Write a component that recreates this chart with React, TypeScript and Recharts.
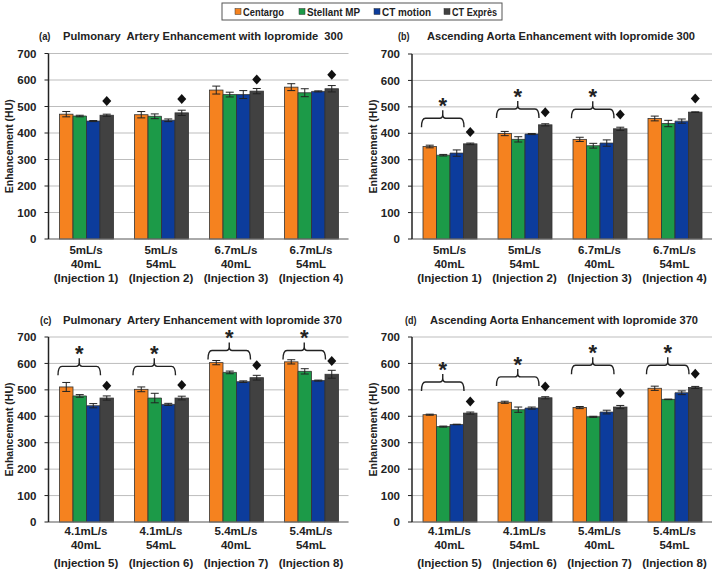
import React from "react"
import { BarChart, Bar, XAxis, YAxis, CartesianGrid, ErrorBar } from "recharts"

// series, in legend order
const seriesKeys = ["centargo", "stellant", "ctMotion", "ctExpres"]
const seriesNames = ["Centargo", "Stellant MP", "CT motion", "CT Exprès"]
const seriesColors = ["#F5821F", "#1C9A48", "#0C3C9C", "#414141"]

// x-axis tick labels
const rates300 = ["5mL/s", "5mL/s", "6.7mL/s", "6.7mL/s"]
const rates370 = ["4.1mL/s", "4.1mL/s", "5.4mL/s", "5.4mL/s"]
const volumes = ["40mL", "54mL", "40mL", "54mL"]
const injections300 = ["(Injection 1)", "(Injection 2)", "(Injection 3)", "(Injection 4)"]
const injections370 = ["(Injection 5)", "(Injection 6)", "(Injection 7)", "(Injection 8)"]

const yTicks = [0, 100, 200, 300, 400, 500, 600, 700]

// (a) pulmonary artery, iopromide 300
const aCentargo = [471, 469, 562, 573]
const aCentargoErr = [10, 12, 15, 13]
const aStellant = [464, 463, 545, 552]
const aStellantErr = [3, 9, 9, 15]
const aMotion = [445, 448, 545, 557]
const aMotionErr = [2, 5, 15, 2]
const aExpres = [467, 476, 558, 567]
const aExpresErr = [4, 10, 10, 12]
const aDiamond = [521, 528, 602, 620]
const aBracket = [null, null, null, null]

// (b) ascending aorta, iopromide 300
const bCentargo = [350, 399, 377, 456]
const bCentargoErr = [5, 8, 8, 9]
const bStellant = [317, 377, 353, 437]
const bStellantErr = [3, 10, 9, 12]
const bMotion = [325, 397, 363, 446]
const bMotionErr = [12, 2, 12, 8]
const bExpres = [360, 432, 417, 480]
const bExpresErr = [3, 4, 6, 1]
const bDiamond = [405, 480, 471, 532]
const bBracket = [457, 492, 491, null]

// (c) pulmonary artery, iopromide 370
const cCentargo = [511, 502, 603, 606]
const cCentargoErr = [17, 9, 8, 8]
const cStellant = [477, 469, 566, 570]
const cStellantErr = [5, 18, 5, 10]
const cMotion = [440, 445, 531, 535]
const cMotionErr = [8, 4, 3, 2]
const cExpres = [469, 469, 546, 559]
const cExpresErr = [8, 7, 9, 15]
const cDiamond = [516, 518, 593, 609]
const cBracket = [589, 589, 649, 649]

// (d) ascending aorta, iopromide 370
const dCentargo = [406, 453, 433, 506]
const dCentargoErr = [2, 4, 4, 8]
const dStellant = [361, 425, 398, 464]
const dStellantErr = [2, 10, 2, 1]
const dMotion = [369, 431, 416, 489]
const dMotionErr = [1, 4, 7, 7]
const dExpres = [412, 470, 435, 509]
const dExpresErr = [4, 4, 6, 4]
const dDiamond = [456, 513, 488, 561]
const dBracket = [530, 549, 593, 593]

const arial = "'Liberation Sans', Arial, sans-serif"

function buildRows(
  rates: string[],
  injections: string[],
  values: number[][],
  errors: number[][],
  diamond: number[],
  bracket: (number | null)[]
) {
  return rates.map((rate, i) => {
    const row: any = { rate, volume: volumes[i], injection: injections[i], diamond: diamond[i], bracket: bracket[i] }
    seriesKeys.forEach((k, s) => {
      row[k] = values[s][i]
      row[k + "Err"] = errors[s][i]
    })
    return row
  })
}

const rowsA = buildRows(rates300, injections300, [aCentargo, aStellant, aMotion, aExpres], [aCentargoErr, aStellantErr, aMotionErr, aExpresErr], aDiamond, aBracket)
const rowsB = buildRows(rates300, injections300, [bCentargo, bStellant, bMotion, bExpres], [bCentargoErr, bStellantErr, bMotionErr, bExpresErr], bDiamond, bBracket)
const rowsC = buildRows(rates370, injections370, [cCentargo, cStellant, cMotion, cExpres], [cCentargoErr, cStellantErr, cMotionErr, cExpresErr], cDiamond, cBracket)
const rowsD = buildRows(rates370, injections370, [dCentargo, dStellant, dMotion, dExpres], [dCentargoErr, dStellantErr, dMotionErr, dExpresErr], dDiamond, dBracket)

// first bar of a group also draws the bracket + asterisk over bars 1-3
function BracketBar(props: any) {
  const { x, y, width, height, fill, value, payload } = props
  const base = y + height
  const k = value ? height / value : 0
  const b = payload?.bracket
  let extra = null
  if (b != null) {
    const top = base - b * k
    const l = x - 1.5
    const r = x + 3 * width + 0.5
    const cx = (l + r) / 2
    extra = (
      <g>
        <path
          d={`M${l},${top + 9} Q${l},${top} ${l + 4},${top} L${cx - 3},${top} Q${cx},${top} ${cx},${top - 4} L${cx},${top - 8} M${cx},${top - 4} Q${cx},${top} ${cx + 3},${top} L${r - 4},${top} Q${r},${top} ${r},${top + 9}`}
          fill="none"
          stroke="#222"
          strokeWidth={1.4}
        />
        <text x={cx} y={top - 5} textAnchor="middle" fontSize={22} fontWeight="bold" fontFamily={arial} fill="#222">
          *
        </text>
      </g>
    )
  }
  return (
    <g>
      <rect x={x} y={y} width={width} height={height} fill={fill} stroke="#333" strokeWidth={0.8} />
      {extra}
    </g>
  )
}

// last bar of a group also draws the diamond
function DiamondBar(props: any) {
  const { x, y, width, height, fill, value, payload } = props
  const base = y + height
  const k = value ? height / value : 0
  const cy = base - payload.diamond * k
  const cx = x + width / 2
  return (
    <g>
      <rect x={x} y={y} width={width} height={height} fill={fill} stroke="#333" strokeWidth={0.8} />
      <path d={`M${cx},${cy - 5} L${cx + 4.5},${cy} L${cx},${cy + 5} L${cx - 4.5},${cy} Z`} fill="#111" />
    </g>
  )
}

function makeTick(rows: any[], offsets: number[]) {
  return (props: any) => {
    const { x, y, payload } = props
    const row = rows.find((r) => r.injection === payload.value)
    if (!row) return null
    const lines = [row.rate, row.volume, row.injection]
    return (
      <g>
        {lines.map((t, i) => (
          <text key={i} x={x} y={y + offsets[i]} textAnchor="middle" fontSize={11.5} fontWeight="bold" fontFamily={arial} fill="#222">
            {t}
          </text>
        ))}
      </g>
    )
  }
}

interface PanelProps {
  rows: any[]
  left: number
  top: number
  margin: { top: number; right: number; bottom: number; left: number }
  tickOffsets: number[]
}

function Panel({ rows, left, top, margin, tickOffsets }: PanelProps) {
  return (
    <div style={{ position: "absolute", left, top }}>
      <BarChart width={357} height={260} data={rows} margin={margin} barGap={0} barSize={13.5}>
        <CartesianGrid vertical={false} stroke="#bdbdbd" />
        <XAxis
          dataKey="injection"
          interval={0}
          tickLine={false}
          tickSize={0}
          tickMargin={0}
          height={51}
          axisLine={{ stroke: "#777" }}
          tick={makeTick(rows, tickOffsets)}
        />
        <YAxis
          domain={[0, 700]}
          ticks={yTicks}
          interval={0}
          width={44}
          tickSize={4}
          tickMargin={8}
          axisLine={{ stroke: "#222", strokeWidth: 1.5 }}
          tickLine={{ stroke: "#222" }}
          tick={{ fontSize: 11.5, fontWeight: "bold", fill: "#222", fontFamily: arial }}
          label={{
            value: "Enhancement (HU)",
            angle: -90,
            position: "insideLeft",
            offset: 5,
            style: { textAnchor: "middle", fontSize: 10.5, fontWeight: "bold", fill: "#222", fontFamily: arial },
          }}
        />
        {seriesKeys.map((k, i) => (
          <Bar
            key={k}
            dataKey={k}
            name={seriesNames[i]}
            fill={seriesColors[i]}
            stroke="#333"
            strokeWidth={0.8}
            isAnimationActive={false}
            shape={i === 0 ? BracketBar : i === 3 ? DiamondBar : undefined}
          >
            <ErrorBar dataKey={k + "Err"} width={4} stroke="#222" strokeWidth={1} />
          </Bar>
        ))}
      </BarChart>
    </div>
  )
}

const titleText = { fontFamily: arial, fontWeight: "bold" as const, fill: "#222" }

function Title({ letter, lx, text, tx, tr, y }: { letter: string; lx: number; text: string; tx: number; tr: number; y: number }) {
  return (
    <g>
      <text x={lx} y={y} fontSize={11} {...titleText} textLength={11.5} lengthAdjust="spacingAndGlyphs">
        {letter}
      </text>
      <text x={tx} y={y} fontSize={11.1} {...titleText} textLength={tr - tx} lengthAdjust="spacingAndGlyphs" style={{ whiteSpace: "pre" }}>
        {text}
      </text>
    </g>
  )
}

const legendSquareX = [235, 299, 374, 444]
const legendTextWidth = [41, 53, 49, 45]

function Overlay() {
  return (
    <svg width={714} height={573} style={{ position: "absolute", left: 0, top: 0, pointerEvents: "none" }}>
      <rect x={222} y={3} width={280} height={17} fill="#fff" stroke="#555" strokeWidth={1} />
      {seriesNames.map((n, i) => (
        <g key={n}>
          <rect x={legendSquareX[i]} y={8.5} width={6} height={6} fill={seriesColors[i]} stroke="#333" strokeWidth={0.5} />
          <text x={legendSquareX[i] + 8} y={15.5} fontSize={10} {...titleText} textLength={legendTextWidth[i]} lengthAdjust="spacingAndGlyphs">
            {n}
          </text>
        </g>
      ))}
      <Title letter="(a)" lx={39} text={"Pulmonary  Artery Enhancement with Iopromide  300"} tx={63} tr={343} y={40} />
      <Title letter="(b)" lx={398} text="Ascending Aorta Enhancement with Iopromide 300" tx={427} tr={695} y={40} />
      <Title letter="(c)" lx={40} text={"Pulmonary  Artery Enhancement with Iopromide 370"} tx={63} tr={342} y={324} />
      <Title letter="(d)" lx={405} text="Ascending Aorta Enhancement with Iopromide 370" tx={430} tr={698} y={324} />
    </svg>
  )
}

export default function App() {
  return (
    <div style={{ position: "absolute", left: 0, top: 0, width: 714, height: 573, background: "#fff", overflow: "hidden" }}>
      <Panel rows={rowsA} left={0} top={30} margin={{ top: 23.5, right: 8.5, bottom: 0, left: 4.5 }} tickOffsets={[15, 29, 43]} />
      <Panel rows={rowsB} left={357} top={30} margin={{ top: 24, right: 2, bottom: 0, left: 11 }} tickOffsets={[15, 29, 43]} />
      <Panel rows={rowsC} left={0} top={313} margin={{ top: 24, right: 8.5, bottom: 0, left: 4.5 }} tickOffsets={[13, 27, 45]} />
      <Panel rows={rowsD} left={357} top={313} margin={{ top: 24, right: 2, bottom: 0, left: 11 }} tickOffsets={[13, 27, 45]} />
      <Overlay />
    </div>
  )
}
